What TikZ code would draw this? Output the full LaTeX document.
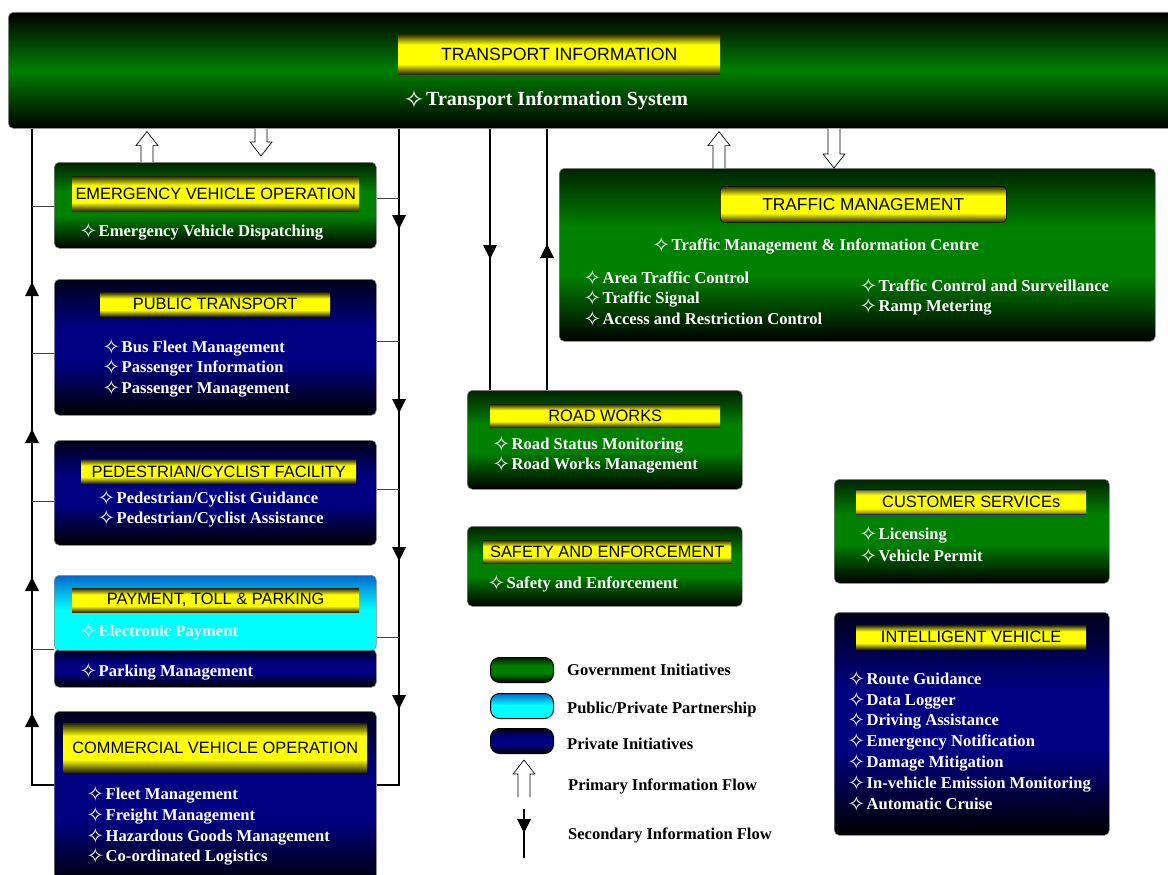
\documentclass[tikz,border=0pt]{standalone}
\usepackage{fontspec}
\setmainfont{Liberation Serif}
\setsansfont{Liberation Sans}
\newfontfamily\dvfont{DejaVu Sans}
\usetikzlibrary{calc}
\definecolor{gr}{RGB}{0,128,0}
\definecolor{grdk}{RGB}{0,35,0}
\definecolor{nv}{RGB}{0,0,128}
\definecolor{nvdk}{RGB}{0,0,25}
\definecolor{cy}{RGB}{0,255,255}
\definecolor{cyt}{RGB}{0,105,205}
\definecolor{yl}{RGB}{255,255,0}
\definecolor{ydk}{RGB}{40,40,0}
\definecolor{ymid}{RGB}{150,150,20}
\definecolor{bluedge}{RGB}{20,20,150}
\pgfdeclareverticalshading{yelsh}{100bp}{color(0bp)=(ydk); color(25bp)=(ydk); color(38bp)=(yl); color(62bp)=(yl); color(75bp)=(ydk); color(100bp)=(ydk)}
\pgfdeclareverticalshading{yelblue}{100bp}{color(0bp)=(bluedge); color(25bp)=(bluedge); color(28bp)=(ymid); color(37bp)=(yl); color(63bp)=(yl); color(72bp)=(ymid); color(75bp)=(bluedge); color(100bp)=(bluedge)}
\pgfdeclareverticalshading{barsh}{100bp}{color(0bp)=(black); color(25bp)=(black); color(50bp)=(gr); color(75bp)=(black); color(100bp)=(black)}
\pgfdeclareverticalshading{greensh}{100bp}{color(0bp)=(black); color(25bp)=(black); color(44bp)=(gr); color(58bp)=(gr); color(75bp)=(grdk); color(100bp)=(grdk)}
\pgfdeclareverticalshading{navysh}{100bp}{color(0bp)=(black); color(25bp)=(black); color(44bp)=(nv); color(58bp)=(nv); color(75bp)=(nvdk); color(100bp)=(nvdk)}
\pgfdeclareverticalshading{cyansh}{100bp}{color(0bp)=(cy); color(25bp)=(cy); color(52bp)=(cy); color(75bp)=(cyt); color(100bp)=(cyt)}
\newcommand\st{\makebox[16.5pt][l]{\hspace{-2.5pt}\raisebox{-2.5pt}{\dvfont\fontsize{21}{21}\selectfont ✧}}}
\newcommand\itm[4][]{\node[item,#1] (#2) at #3 {\st #4};}
\newcommand\tipup[1]{\fill let \p1=#1 in (\x1,\y1) -- (\x1-7pt,\y1-14pt) -- (\x1+7pt,\y1-14pt) -- cycle;}
\newcommand\tipdown[1]{\fill let \p1=#1 in (\x1,\y1) -- (\x1-7pt,\y1+14pt) -- (\x1+7pt,\y1+14pt) -- cycle;}
\newcommand\hollowup[2]{\filldraw[hollow] let \p1=#1, \p2=#2 in (\x1-6pt,\y1) -- (\x1-6pt,\y2-14pt) -- (\x1-11pt,\y2-14pt) -- (\x1,\y2) -- (\x1+11pt,\y2-14pt) -- (\x1+6pt,\y2-14pt) -- (\x1+6pt,\y1);}
\newcommand\hollowdown[2]{\filldraw[hollow] let \p1=#1, \p2=#2 in (\x1-6pt,\y1) -- (\x1-6pt,\y2+14pt) -- (\x1-11pt,\y2+14pt) -- (\x1,\y2) -- (\x1+11pt,\y2+14pt) -- (\x1+6pt,\y2+14pt) -- (\x1+6pt,\y1);}
\tikzset{
  box/.style={draw=black!45, line width=0.6pt, rounded corners=5pt, inner sep=0pt, anchor=north west, shade},
  gbox/.style={box, shading=greensh},
  nbox/.style={box, shading=navysh},
  lab/.style={anchor=north west, inner sep=0pt, shade, shading=yelsh, text=black, font=\sffamily\fontsize{16.4}{18}\selectfont},
  item/.style={anchor=base west, inner sep=0pt, text=white, font=\bfseries\fontsize{16.6}{20}\selectfont},
  legtext/.style={anchor=base west, inner sep=0pt, text=black, font=\bfseries\fontsize{16.5}{20}\selectfont},
  pill/.style={anchor=north west, draw=black, line width=1pt, rounded corners=9pt, inner sep=0pt, shade, minimum width=63, minimum height=25},
  bus/.style={line width=1.3pt, black},
  branch/.style={line width=0.9pt, black!75},
  hollow/.style={draw=black, fill=white, line width=0.7pt},
}
\begin{document}
\begin{tikzpicture}[x=1pt,y=-1pt]
\useasboundingbox[fill=white] (0,0) rectangle (1168,875);

% ---------- boxes ----------
\node[box, shading=barsh, minimum width=1180, minimum height=116] (top) at (8,12) {};
\node[gbox, minimum width=322, minimum height=86] (emg) at (54,162) {};
\node[nbox, minimum width=322, minimum height=136] (pt) at (54,279) {};
\node[nbox, minimum width=322, minimum height=105] (ped) at (54,440) {};
\node[box, shading=navysh, minimum width=322, minimum height=38] (payB) at (54,649) {};
\node[box, shading=cyansh, minimum width=322, minimum height=75] (pay) at (54,575) {};
\node[nbox, minimum width=322, minimum height=175] (cvo) at (54,711) {};
\node[gbox, minimum width=596, minimum height=173] (tm) at (559,168) {};
\node[gbox, minimum width=275, minimum height=99] (rw) at (467,390) {};
\node[gbox, minimum width=275, minimum height=80] (se) at (467,526) {};
\node[gbox, minimum width=275, minimum height=104] (cs) at (834,479) {};
\node[nbox, minimum width=275, minimum height=223] (iv) at (834,612) {};

% left bus (up flow)
\draw[bus] (top.south -| 32,0) -- (32,785) -- (cvo.west |- 0,785);
\draw[branch] (32,206) -- (emg.west |- 0,206);
\draw[branch] (32,353) -- (pt.west |- 0,353);
\draw[branch] (32,501) -- (ped.west |- 0,501);
\draw[branch] (32,649) -- (pay.west |- 0,649);
\tipup{(32,282)} \tipup{(32,429)} \tipup{(32,577)} \tipup{(32,713)}

% right bus (down flow)
\draw[bus] (top.south -| 399,0) -- (399,785) -- (cvo.east |- 0,785);
\draw[branch] (emg.east |- 0,198) -- (399,198);
\draw[branch] (pt.east |- 0,341) -- (399,341);
\draw[branch] (ped.east |- 0,489) -- (399,489);
\draw[branch] (pay.east |- 0,637) -- (399,637);
\tipdown{(399,229)} \tipdown{(399,413)} \tipdown{(399,561)} \tipdown{(399,709)}

% road works lines
\draw[bus] (top.south -| 490,0) -- (rw.north -| 490,0);
\tipdown{(490,259)}
\draw[bus] (rw.north -| 547,0) -- (top.south -| 547,0);
\tipup{(547,244)}

% hollow primary arrows
\hollowup{(emg.north -| 147,0)}{($(top.south -| 147,0)+(0,3)$)}
\hollowdown{(top.south -| 261,0)}{(261,156)}
\hollowup{(tm.north -| 719,0)}{($(top.south -| 719,0)+(0,3)$)}
\hollowdown{(top.south -| 834,0)}{(tm.north -| 834,0)}

% ---------- labels ----------
\node[lab, font=\sffamily\fontsize{17.7}{19}\selectfont, minimum width=322, minimum height=40] (topL) at (398,34) {TRANSPORT INFORMATION};
\node[item, font=\bfseries\fontsize{20}{24}\selectfont] (top1) at (406,106) {\makebox[20pt][l]{\hspace{-2.5pt}\raisebox{-3pt}{\dvfont\fontsize{25}{25}\selectfont ✧}}Transport Information System};

\node[lab, minimum width=287, minimum height=35] (emgL) at (72,176) {EMERGENCY VEHICLE OPERATION};
\itm{emg1}{(82,236)}{Emergency Vehicle Dispatching}

\node[lab, minimum width=230, minimum height=24] (ptL) at (100,292) {PUBLIC TRANSPORT};
\itm{pt1}{(105,352)}{Bus Fleet Management}
\itm{pt2}{(105,372)}{Passenger Information}
\itm{pt3}{(105,393)}{Passenger Management}

\node[lab, minimum width=275, minimum height=24] (pedL) at (81,459) {PEDESTRIAN/CYCLIST FACILITY};
\itm{ped1}{(100,503)}{Pedestrian/Cyclist Guidance}
\itm{ped2}{(100,523)}{Pedestrian/Cyclist Assistance}

\node[lab, minimum width=287, minimum height=24] (payL) at (72,588) {PAYMENT, TOLL \& PARKING};
\itm{pay1}{(82,636)}{Electronic Payment}
\itm{pay2}{(82,676)}{Parking Management}

\node[lab, minimum width=304, minimum height=49] (cvoL) at (63,723) {COMMERCIAL VEHICLE OPERATION};
\itm{cvo1}{(89,799)}{Fleet Management}
\itm{cvo2}{(89,820)}{Freight Management}
\itm{cvo3}{(89,841)}{Hazardous Goods Management}
\itm{cvo4}{(89,861)}{Co-ordinated Logistics}

\node[lab, draw=black, line width=0.6pt, rounded corners=4pt, font=\sffamily\fontsize{17.3}{18}\selectfont, minimum width=286, minimum height=36] (tmL) at (720,186) {TRAFFIC MANAGEMENT};
\itm{tm0}{(655,250)}{Traffic Management \& Information Centre}
\itm{tm1}{(586,283)}{Area Traffic Control}
\itm{tm2}{(586,303)}{Traffic Signal}
\itm{tm3}{(586,324)}{Access and Restriction Control}
\itm{tm4}{(862,291)}{Traffic Control and Surveillance}
\itm{tm5}{(862,311)}{Ramp Metering}

\node[lab, minimum width=230, minimum height=23] (rwL) at (490,404) {ROAD WORKS};
\itm{rw1}{(495,449)}{Road Status Monitoring}
\itm{rw2}{(495,469)}{Road Works Management}

\node[lab, minimum width=248, minimum height=23] (seL) at (483,540) {SAFETY AND ENFORCEMENT};
\itm{se1}{(490,588)}{Safety and Enforcement}

\node[lab, shading=yelblue, minimum width=230, minimum height=25] (csL) at (856,489) {CUSTOMER SERVICEs};
\itm{cs1}{(862,539)}{Licensing}
\itm{cs2}{(862,561)}{Vehicle Permit}

\node[lab, minimum width=230, minimum height=24] (ivL) at (856,625) {INTELLIGENT VEHICLE};
\itm{iv1}{(850,684)}{Route Guidance}
\itm{iv2}{(850,705)}{Data Logger}
\itm{iv3}{(850,725)}{Driving Assistance}
\itm{iv4}{(850,746)}{Emergency Notification}
\itm{iv5}{(850,767)}{Damage Mitigation}
\itm{iv6}{(850,788)}{In-vehicle Emission Monitoring}
\itm{iv7}{(850,809)}{Automatic Cruise}

% ---------- legend ----------
\node[pill, shading=greensh] (lg1) at (490,657) {};
\node[pill, shading=cyansh] (lg2) at (490,693) {};
\node[pill, shading=navysh] (lg3) at (490,728) {};
\node[legtext] (lt1) at (567,675) {Government Initiatives};
\node[legtext] (lt2) at (567,713) {Public/Private Partnership};
\node[legtext] (lt3) at (567,749) {Private Initiatives};
\coordinate (lp0) at (524,797);
\coordinate (lp1) at (524,760);
\hollowup{(lp0)}{(lp1)}
\node[legtext] (lt4) at (568,790) {Primary Information Flow};
\coordinate (ls0) at (524,809);
\coordinate (ls1) at (524,858);
\draw[bus] (ls0) -- (ls1);
\tipdown{(524,833)}
\node[legtext] (lt5) at (568,839) {Secondary Information Flow};
\end{tikzpicture}
\end{document}
